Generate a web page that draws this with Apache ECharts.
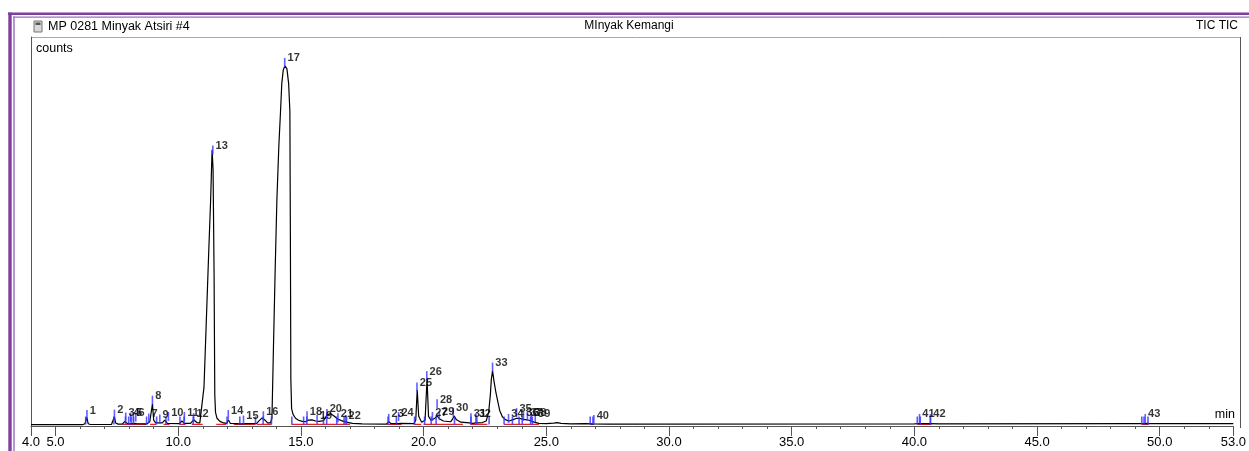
<!DOCTYPE html>
<html>
<head>
<meta charset="utf-8">
<script src="https://cdn.jsdelivr.net/npm/echarts@6/dist/echarts.min.js"></script>
<style>
  html, body { margin: 0; padding: 0; background: #ffffff; }
  #chart { width: 1249px; height: 451px; }
</style>
</head>
<body>
<div id="chart"></div>
<script>
// ---- Data ----
const rtMin = [4.00, 6.10, 6.20, 6.27, 6.33, 6.42, 7.28, 7.35, 7.40, 7.45, 7.55, 7.72, 7.82, 7.92, 8.02, 8.07, 8.13, 8.19, 8.30, 8.72,
  8.84, 8.90, 8.95, 9.00, 9.08, 9.35, 9.45, 9.56, 10.05, 10.15, 10.25, 10.50, 10.63, 10.76, 10.88, 10.96, 11.05, 11.15, 11.25, 11.32,
  11.38, 11.42, 11.46, 11.49, 11.52, 11.58, 11.70, 11.85, 11.98, 12.04, 12.12, 12.58, 12.66, 12.74, 13.20, 13.30, 13.42, 13.54, 13.64, 13.76,
  13.82, 13.88, 13.95, 14.02, 14.10, 14.17, 14.22, 14.28, 14.35, 14.43, 14.50, 14.55, 14.57, 14.59, 14.62, 14.68, 14.78, 14.90, 15.05, 15.18,
  15.30, 15.45, 15.60, 15.75, 15.92, 16.06, 16.20, 16.35, 16.50, 16.65, 16.85, 17.10, 17.50, 18.48, 18.58, 18.68, 18.90, 18.98, 19.08, 19.60,
  19.68, 19.74, 19.80, 19.92, 20.06, 20.14, 20.20, 20.30, 20.38, 20.46, 20.55, 20.64, 20.80, 21.10, 21.18, 21.24, 21.34, 21.52, 21.86, 21.94,
  22.02, 22.12, 22.40, 22.55, 22.65, 22.72, 22.76, 22.81, 22.87, 22.95, 23.01, 23.10, 23.21, 23.35, 23.48, 23.62, 23.80, 23.95, 24.10, 24.30,
  24.50, 24.70, 25.00, 25.30, 25.45, 25.60, 26.00, 26.60, 26.90, 27.50, 40.00, 40.22, 40.60, 41.00, 49.30, 49.40, 49.60, 53.00];
const counts = [0.35, 0.35, 0.6, 2.3, 0.6, 0.4, 0.4, 0.8, 2.4, 0.8, 0.5, 0.5, 1.2, 0.7, 0.6, 0.9, 0.7, 0.9, 0.6, 0.55,
  1.1, 1.6, 5.7, 1.5, 0.8, 0.8, 1.5, 0.7, 0.6, 1.3, 0.7, 0.7, 1.6, 0.9, 0.8, 1.3, 10, 28, 46, 58,
  71, 66, 40, 8, 3.5, 2.0, 1.2, 0.8, 0.7, 1.6, 0.7, 0.55, 0.8, 0.6, 0.7, 1.4, 2.1, 1.5, 0.8, 0.8,
  2.0, 20, 40, 58, 72, 81, 88, 91.5, 92.6, 91.8, 88, 81, 50, 12, 4.5, 3.0, 2.0, 1.5, 1.2, 1.1,
  1.5, 1.6, 1.3, 1.2, 1.4, 2.8, 3.2, 2.6, 1.8, 1.4, 1.0, 0.7, 0.55, 0.5, 1.1, 0.6, 0.6, 1.1, 0.7, 0.6,
  1.5, 9.3, 2.5, 1.0, 1.5, 12.1, 2.5, 1.5, 1.4, 2.0, 2.6, 1.9, 1.3, 1.1, 1.8, 2.6, 1.6, 1.0, 0.8, 1.0,
  0.7, 0.8, 0.9, 1.3, 3.5, 8, 12, 14.2, 11.5, 8.5, 6.7, 4.0, 2.4, 1.6, 1.3, 1.6, 2.0, 1.9, 1.7, 1.5,
  1.0, 0.7, 0.6, 0.75, 0.9, 0.7, 0.55, 0.6, 0.55, 0.5, 0.55, 0.65, 0.6, 0.55, 0.6, 0.7, 0.6, 0.6];

// peak annotations: number, retention time, level of the marker
const peakNo = [1,2,3,4,5,6,7,8,9,10,11,12,13,14,15,16,17,18,19,20,21,22,23,24,25,26,27,28,29,30,31,32,33,34,35,36,37,38,39,40,41,42,43];
const peakRt = [6.28, 7.40, 7.86, 8.06, 8.17, 8.27, 8.80, 8.95, 9.25, 9.60, 10.25, 10.63, 11.41, 12.04, 12.66, 13.47, 14.34, 15.25, 15.66, 16.06,
  16.51, 16.83, 18.58, 18.98, 19.73, 20.13, 20.36, 20.55, 20.64, 21.21, 21.93, 22.13, 22.81, 23.46, 23.79, 24.07, 24.23, 24.39, 24.55, 26.94,
  40.21, 40.66, 49.41];
const peakLevel = [1.8, 1.9, 1.15, 1.15, 1.15, 1.15, 0.9, 5.5, 0.65, 1.3, 1.3, 1.0, 69.8, 1.8, 0.4, 1.5, 92.3, 1.5, 0.5, 2.1,
  1.0, 0.5, 0.8, 1.3, 8.9, 11.8, 1.3, 4.6, 1.5, 2.4, 1.0, 1.0, 14.0, 0.8, 2.3, 1.3, 1.3, 1.3, 1.0, 0.5,
  0.8, 0.8, 0.8];

// integration boundary marks (minutes)
const boundaryRt = [6.23, 7.38, 7.85, 7.98, 8.08, 8.18, 8.71, 9.12, 9.50, 10.07, 10.24, 10.61, 11.99, 12.51, 13.15, 13.46, 13.80, 14.63,
  15.11, 15.24, 15.92, 16.05, 16.46, 16.76, 16.86, 18.55, 18.89, 19.63, 20.04, 20.31, 20.51, 21.26, 21.93, 22.17, 22.67, 23.28,
  23.62, 23.89, 24.02, 24.36, 24.43, 26.79, 26.90, 40.12, 40.24, 40.65, 49.27, 49.36, 49.52];
const boundaryLevel = 0.4;

// red integration baselines (start, end in minutes)
const redStart = [7.73, 8.85, 9.40, 10.05, 10.55, 11.55, 12.27, 13.20, 14.62, 18.50, 19.60, 20.00, 21.90, 23.28, 26.79, 40.12, 49.27];
const redEnd   = [8.70, 9.10, 9.65, 10.30, 11.00, 11.95, 13.15, 13.80, 17.00, 19.10, 19.90, 21.60, 22.60, 24.70, 26.95, 40.70, 49.55];
const redLevel = 0.45;

const xTickLabels = [4, 5, 10, 15, 20, 25, 30, 35, 40, 45, 50, 53];

// ---- Build chart ----
const traceData = rtMin.map((t, i) => [t, counts[i]]);
const redData = [];
redStart.forEach((s, i) => { redData.push([s, redLevel]); redData.push([redEnd[i], redLevel]); redData.push([redEnd[i], null]); });
const peakData = peakRt.map((t, i) => ({ value: [t, peakLevel[i]], name: String(peakNo[i]) }));
const boundData = boundaryRt.map(t => [t, boundaryLevel]);

const FONT = '"Liberation Sans", Arial, sans-serif';
const PURPLE = '#7f3f9f';
const chart = echarts.init(document.getElementById('chart'), null, { renderer: 'canvas' });
chart.setOption({
  animation: false,
  backgroundColor: '#ffffff',
  grid: { left: 31, right: 9, top: 37, bottom: 23 },
  xAxis: [{
    type: 'value', min: 4, max: 53, interval: 1,
    axisLine: { show: true, lineStyle: { color: '#555', width: 1 } },
    axisTick: { show: true, length: 3, lineStyle: { color: '#555' } },
    axisLabel: { customValues: xTickLabels, formatter: v => v.toFixed(1), color: '#000', fontSize: 13, fontFamily: FONT, margin: 8 },
    splitLine: { show: false }
  }, {
    type: 'value', min: 4, max: 53, position: 'bottom',
    axisLine: { show: false },
    axisTick: { show: true, length: 8, customValues: xTickLabels, lineStyle: { color: '#555' } },
    axisLabel: { show: false },
    splitLine: { show: false }
  }],
  yAxis: {
    type: 'value', min: -0.5, max: 100,
    axisLine: { show: true, lineStyle: { color: '#555', width: 1 } },
    axisTick: { show: false }, axisLabel: { show: false }, splitLine: { show: false }
  },
  series: [
    {
      type: 'line', data: redData, showSymbol: false, connectNulls: false, z: 3,
      lineStyle: { color: '#e8202a', width: 1.3 }
    },
    {
      type: 'line', data: traceData, showSymbol: false, z: 4,
      lineStyle: { color: '#000', width: 1.2 }
    },
    {
      type: 'scatter', data: boundData, symbol: 'rect', symbolSize: [1.6, 8], symbolOffset: [0, -4], z: 5,
      itemStyle: { color: '#2f2fff' }
    },
    {
      type: 'scatter', data: peakData, symbol: 'rect', symbolSize: [1.6, 9], symbolOffset: [0, -4.5], z: 6,
      itemStyle: { color: '#3a3aff' },
      label: { show: true, position: 'right', distance: 2, offset: [0, -4], formatter: p => p.name,
        color: '#000', fontSize: 11, fontWeight: 'bold', fontFamily: FONT }
    }
  ],
  graphic: [
    { type: 'rect', shape: { x: 8, y: 12.5, width: 1245, height: 2.6 }, style: { fill: PURPLE }, silent: true },
    { type: 'rect', shape: { x: 13, y: 16.6, width: 1240, height: 1.2 }, style: { fill: '#9a6cbc' }, silent: true },
    { type: 'rect', shape: { x: 8.3, y: 12.5, width: 3.4, height: 445 }, style: { fill: PURPLE }, silent: true },
    { type: 'rect', shape: { x: 13.3, y: 16.6, width: 1.4, height: 445 }, style: { fill: '#9a6cbc' }, silent: true },
    { type: 'line', shape: { x1: 31, y1: 37.5, x2: 1240, y2: 37.5 }, style: { stroke: '#a8a8a8', lineWidth: 1 }, silent: true },
    { type: 'line', shape: { x1: 1240.5, y1: 37, x2: 1240.5, y2: 428 }, style: { stroke: '#555', lineWidth: 1 }, silent: true },
    { type: 'rect', shape: { x: 34, y: 21, width: 8, height: 11 }, style: { fill: '#d9d9d9', stroke: '#777', lineWidth: 1 }, silent: true },
    { type: 'rect', shape: { x: 35.5, y: 22.5, width: 5, height: 2.5 }, style: { fill: '#555' }, silent: true },
    { type: 'text', left: 48, top: 20, style: { text: 'MP 0281 Minyak Atsiri #4', fill: '#000', font: '12.5px ' + FONT } },
    { type: 'text', x: 629, y: 20, style: { text: 'MInyak Kemangi', fill: '#000', font: '12px ' + FONT, align: 'center' } },
    { type: 'text', x: 1238, y: 20, style: { text: 'TIC TIC', fill: '#000', font: '12px ' + FONT, align: 'right' } },
    { type: 'text', left: 36, top: 42, style: { text: 'counts', fill: '#000', font: '12.5px ' + FONT } },
    { type: 'text', x: 1235, y: 408, style: { text: 'min', fill: '#000', font: '12.5px ' + FONT, align: 'right' } }
  ]
});
</script>
</body>
</html>
